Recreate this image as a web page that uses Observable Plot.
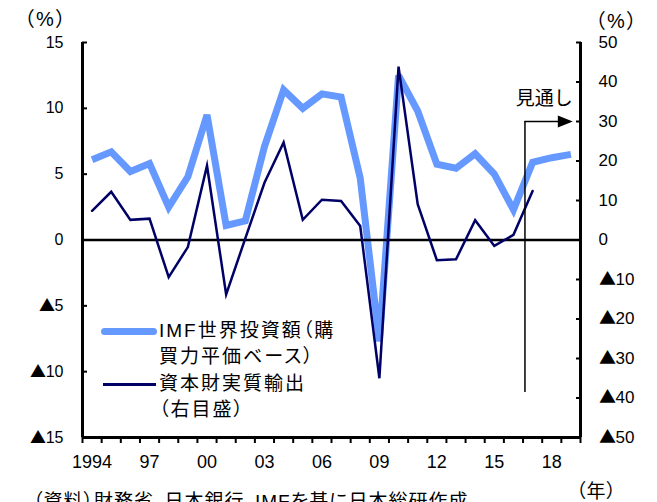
<!DOCTYPE html>
<html>
<head>
<meta charset="utf-8">
<script src="https://cdn.jsdelivr.net/npm/d3@7"></script>
<script src="https://cdn.jsdelivr.net/npm/@observablehq/plot@0.6"></script>
<style>
  /* Large CJK triangle for negative tick labels, digits stay in Liberation Sans */
  @font-face {
    font-family: "TickMark";
    src: local("Noto Sans CJK JP"), local("Noto Sans CJK JP Regular"), local("NotoSansCJKjp-Regular"), local("DejaVu Sans");
    unicode-range: U+25B2;
  }
  body { margin: 0; background: #fff; }
  #chart {
    position: relative; width: 657px; height: 502px; overflow: hidden;
    font-family: "Liberation Sans", "Noto Sans CJK JP", sans-serif; color: #000;
  }
  #chart svg { position: absolute; left: 0; top: 0; overflow: visible; }
  .note { position: absolute; white-space: nowrap; font-feature-settings: "palt"; }
  .cjk { font-size: 19px; line-height: 26px; letter-spacing: 2px; }
  .unit { font-size: 20px; letter-spacing: 2px; }
  .swatch { position: absolute; }
</style>
</head>
<body>
<div id="chart"></div>
<script>
// Years on the horizontal axis
const years = [1994, 1995, 1996, 1997, 1998, 1999, 2000, 2001, 2002, 2003, 2004, 2005, 2006,
  2007, 2008, 2009, 2010, 2011, 2012, 2013, 2014, 2015, 2016, 2017, 2018, 2019];

// IMF world investment growth, PPP basis (%, left axis)
const imfInvestment = [6.1, 6.7, 5.2, 5.8, 2.5, 4.8, 9.5, 1.1, 1.45, 7.1, 11.4, 10.0, 11.1,
  10.85, 4.7, -7.7, 12.5, 9.8, 5.75, 5.45, 6.55, 5.0, 2.3, 5.9, 6.25, 6.5];

// Real capital goods exports growth (%, right axis), through 2017
const capitalGoodsExports = [7.4, 12.2, 5.1, 5.4, -9.4, -1.8, 18.8, -13.8, 0.4, 14.5, 24.7, 5.1,
  10.2, 9.9, 3.55, -35.0, 43.9, 9.05, -5.1, -4.9, 5.0, -1.5, 1.3, 12.4];

// Axis ticks
const leftTicks = [-15, -10, -5, 0, 5, 10, 15];
const rightTicks = [-50, -40, -30, -20, -10, 0, 10, 20, 30, 40, 50];
const yearLabels = [1994, 1997, 2000, 2003, 2006, 2009, 2012, 2015, 2018];

// Outlook marker: starts part-way through 2016, arrow at the right-axis 30% level
const outlookStart = 2016.6;
const outlookEnd = 2019.1;
const outlookLevel = 30;
const outlookBottom = -38.6;

// Right axis (±50) is drawn on the left axis scale (±15)
const RATIO = 15 / 50;
const neg = v => v < 0 ? "▲" + (-v) : String(v);

const imfRows = years.map((year, i) => ({year, value: imfInvestment[i]}));
const exportRows = capitalGoodsExports.map((value, i) => ({year: years[i], value: value * RATIO}));
const yearEdges = d3.range(years[0] - 0.5, years[years.length - 1] + 1, 1);

const blue = "#6699ff";
const navy = "#000066";
const tickFont = "TickMark, Liberation Sans, sans-serif";

// Filled triangular arrowhead
const arrowHead = {
  draw(context, l) {
    context.moveTo(0, -l);
    context.lineTo(-6, 0);
    context.lineTo(6, 0);
    context.closePath();
  }
};

const plot = Plot.plot({
  width: 657,
  height: 502,
  marginLeft: 82,
  marginRight: 77,
  marginTop: 42,
  marginBottom: 65,
  style: {fontFamily: tickFont, background: "transparent"},
  x: {domain: [yearEdges[0], yearEdges[yearEdges.length - 1]], axis: null},
  y: {domain: [-15, 15], axis: null},
  marks: [
    // IMF investment (thick light blue)
    Plot.line(imfRows, {x: "year", y: "value", stroke: blue, strokeWidth: 7,
      strokeLinejoin: "miter", strokeMiterlimit: 3, strokeLinecap: "butt"}),
    // zero line
    Plot.ruleY([0], {stroke: "black", strokeWidth: 2.5}),
    // capital goods exports (navy, right axis)
    Plot.line(exportRows, {x: "year", y: "value", stroke: navy, strokeWidth: 2.5,
      strokeLinejoin: "miter", strokeMiterlimit: 6}),

    // outlook marker
    Plot.ruleX([outlookStart], {y1: outlookBottom * RATIO, y2: outlookLevel * RATIO, stroke: "black", strokeWidth: 1.5}),
    Plot.ruleY([outlookLevel * RATIO], {x1: outlookStart, x2: outlookEnd - 0.3, stroke: "black", strokeWidth: 1.5}),
    Plot.vector([{x: outlookEnd, y: outlookLevel * RATIO}], {x: "x", y: "y", rotate: 90, length: 15,
      anchor: "end", shape: arrowHead, fill: "black", stroke: "none"}),
    Plot.text(["見通し"], {x: outlookEnd, y: outlookLevel * RATIO, dy: -23, textAnchor: "end",
      fontSize: 19, fill: "black", fontFamily: "Noto Sans CJK JP", lineAnchor: "middle"}),

    // frame: left, right and bottom axis lines
    Plot.ruleX([yearEdges[0], yearEdges[yearEdges.length - 1]], {stroke: "black", strokeWidth: 3}),
    Plot.ruleY([-15], {stroke: "black", strokeWidth: 3}),

    // left axis: inward ticks + labels
    Plot.axisY(leftTicks, {anchor: "left", tickSize: 5, dx: 5, tickFormat: () => "", label: null, strokeWidth: 2}),
    Plot.axisY(leftTicks, {anchor: "left", tickSize: 0, tickPadding: 19, tickFormat: neg, label: null,
      fontSize: 16, fill: "black", fontFamily: tickFont}),
    // right axis: inward ticks + labels
    Plot.axisY(rightTicks.map(v => v * RATIO), {anchor: "right", tickSize: 5, dx: -5, tickFormat: () => "", label: null, strokeWidth: 2}),
    Plot.axisY(rightTicks.map(v => v * RATIO), {anchor: "right", tickSize: 0, tickPadding: 18,
      tickFormat: d => neg(Math.round(d / RATIO)), label: null, fontSize: 17, fill: "black", fontFamily: tickFont}),
    // bottom axis: tick at every year edge + labels every three years
    Plot.axisX(yearEdges, {anchor: "bottom", tickSize: 6, tickFormat: () => "", label: null, strokeWidth: 2}),
    Plot.axisX(yearLabels, {anchor: "bottom", tickSize: 0, tickPadding: 18,
      tickFormat: y => y === 1994 ? "1994" : String(y % 100).padStart(2, "0"), label: null, fontSize: 18, fill: "black"})
  ]
});

const chart = document.getElementById("chart");
chart.appendChild(plot);

// Unit labels, legend and source note
chart.insertAdjacentHTML("beforeend", `
  <div class="note unit" style="left:24px;top:3px;">（%）</div>
  <div class="note unit" style="left:595px;top:5px;">（%）</div>
  <div class="note" style="left:576px;top:476px;font-size:19px;letter-spacing:1px;">（年）</div>

  <div class="swatch" style="left:101px;top:327.5px;width:56px;height:7px;border-radius:3.5px;background:${blue};"></div>
  <div class="note cjk" style="left:159px;top:318px;">IMF世界投資額（購<br>買力平価ベース）</div>
  <div class="swatch" style="left:103px;top:383px;width:53px;height:2.5px;background:${navy};"></div>
  <div class="note cjk" style="left:159px;top:371px;">資本財実質輸出<br>（右目盛）</div>

  <div class="note" style="left:33px;top:486px;font-size:19px;letter-spacing:1px;">（資料）財務省、日本銀行、IMFを基に日本総研作成</div>
`);
</script>
</body>
</html>
